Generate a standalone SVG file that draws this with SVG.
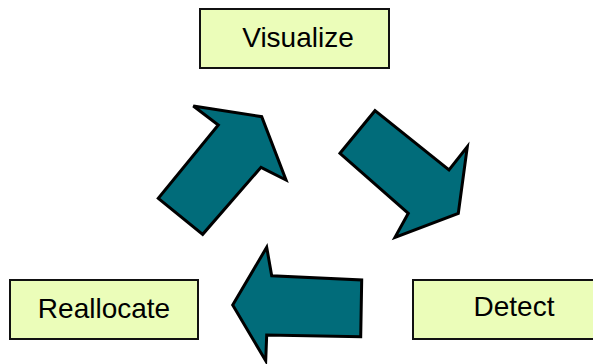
<svg xmlns="http://www.w3.org/2000/svg" width="593" height="364" viewBox="0 0 593 364">
<style>
.box{fill:#ebfdb9;stroke:#111;stroke-width:2}
.lbl{font-family:"Liberation Sans",Arial,sans-serif;font-size:28px;fill:#000;text-anchor:middle}
.arr{fill:#016c7a;stroke:#000;stroke-width:3;stroke-linejoin:miter}
</style>
<rect width="593" height="364" fill="#fff"/>
<g id="visualize"><rect class="box" x="200" y="9" width="189" height="59"/><text class="lbl" x="298" y="47">Visualize</text></g>
<g id="reallocate"><rect class="box" x="10" y="280" width="188" height="59"/><text class="lbl" x="104" y="318">Reallocate</text></g>
<g id="detect"><rect class="box" x="413" y="280" width="201" height="59"/><text class="lbl" x="514" y="316">Detect</text></g>
<g id="connectors">
<polygon class="arr" points="158.3,198.3 202.7,234.3 261,167.3 286,180 261.7,116.7 193.3,106 218.3,125"/>
<polygon class="arr" points="340,153.3 375,110.7 449,170 467.3,146.7 458.3,213.3 395,237.3 408.3,213.3"/>
<polygon class="arr" points="361.7,280 360.7,336.7 266.7,335 265.7,360.7 232.7,305 266.7,247.3 271.7,275.7"/>
</g>
</svg>
